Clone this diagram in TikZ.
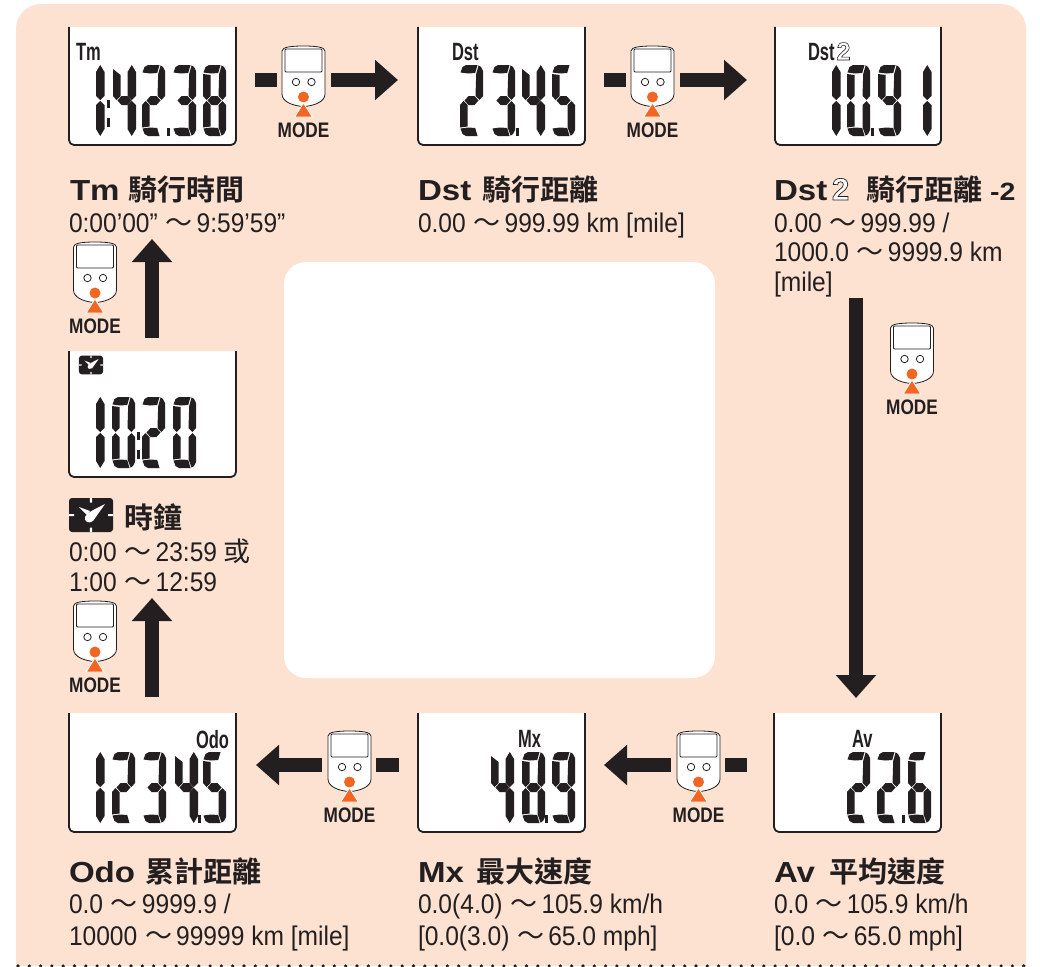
\documentclass[tikz,border=0pt]{standalone}
\usepackage{fontspec}
\usetikzlibrary{arrows.meta}
\setmainfont{Liberation Sans}[FakeStretch=0.91]
\newfontfamily\tbf{Liberation Sans Bold}[FakeStretch=1.14]
\newfontfamily\modef{Liberation Sans Bold}[FakeStretch=0.82]
\newfontfamily\lcdf{Liberation Sans Bold}[FakeStretch=0.66]
\newfontfamily\outf{Liberation Sans Bold}[FakeBold=2.2]
\newfontfamily\cjkb{Noto Sans CJK TC Bold}
\newfontfamily\cjkr{Noto Sans CJK TC}
\definecolor{ink}{HTML}{231F20}
\definecolor{peach}{HTML}{FDE2D2}
\definecolor{hot}{HTML}{F26522}
\newcommand\fs[1]{\fontsize{#1}{#1}\selectfont}
\newcommand\wv{\hspace{1pt}{\cjkr 〜}\hspace{4pt}}
\newcommand\outtwo{\special{pdf:bcolor [1 1 1] [0.137 0.122 0.125]}{\outf 2}\special{pdf:ecolor}}
\tikzset{
  every node/.style={inner sep=0pt,outer sep=0pt,text=ink},
  body/.style={anchor=base west,font=\fs{27}},
  ttlab/.style={anchor=base west,font=\fs{29}},
  lcdlab/.style={anchor=base west,font=\lcdf\fs{25}},
  modelab/.style={anchor=base,font=\modef\fs{21}},
  dispbox/.style={anchor=north west,fill=white},
  dispedge/.style={draw=ink,line width=1.8pt,rounded corners=5pt},
  devbox/.style={minimum width=43pt,minimum height=68pt},
  fat/.style={draw=ink,line width=14pt,-{Triangle[length=23pt,width=39pt]}},
  stub/.style={draw=ink,line width=14pt},
  lcd/.style={fill=ink},
}
% seven-segment parts
\newcommand\sgA{\fill[lcd] (0.5,7.5)--(2.5,2)--(6,0)--(17.5,0)--(15.2,8)--(8,8.5)--cycle;}
\newcommand\sgB{\fill[lcd] (18.6,0.3)--(21,2)--(23,6)--(23,31)--(19.5,35)--(15.5,31)--(16.2,9)--cycle;}
\newcommand\sgC{\fill[lcd] (15.5,40)--(19.5,36)--(23,40)--(23,65)--(21,69)--(18.6,70.7)--(15.5,62)--cycle;}
\newcommand\sgD{\fill[lcd] (0.5,63.5)--(8,62.5)--(15.2,63)--(17.5,71)--(6,71)--(2.5,69)--cycle;}
\newcommand\sgE{\fill[lcd] (0,40)--(3.5,36)--(7.5,40)--(7.5,61.5)--(0,62.5)--cycle;}
\newcommand\sgF{\fill[lcd] (0,9)--(7.5,10)--(7.5,31)--(3.5,35)--(0,31)--cycle;}
\newcommand\sgG{\fill[lcd] (4.5,35.5)--(8.5,31)--(14.5,31)--(18.5,35.5)--(14.5,40)--(8.5,40)--cycle;}
\newcommand\sgK{\fill[lcd] (0,4)--(7.5,10)--(7.5,31)--(3.5,35)--(0,31)--cycle;}
\newcommand\colP[1]{\fill[lcd] (#1,7)--(#1+4.25,0)--(#1+8.5,7)--(#1+8.5,31)--(#1+4.25,35)--(#1,31)--cycle;
  \fill[lcd] (#1,40)--(#1+4.25,36)--(#1+8.5,40)--(#1+8.5,64)--(#1+4.25,71)--(#1,64)--cycle;}
\newcommand\dzero{\sgA\sgB\sgC\sgD\sgE\sgF}
\newcommand\done{\colP{0}}
\newcommand\dtwo{\sgA\sgB\sgG\sgE\sgD}
\newcommand\dthree{\sgA\sgB\sgG\sgC\sgD}
\newcommand\dfour{\sgK\sgG\colP{14.5}}
\newcommand\dfive{\sgA\sgF\sgG\sgC\sgD}
\newcommand\dsix{\sgA\sgF\sgG\sgE\sgC\sgD}
\newcommand\deight{\sgA\sgB\sgC\sgD\sgE\sgF\sgG}
\newcommand\dnine{\sgA\sgB\sgC\sgD\sgF\sgG}
\newcommand\dg[3]{\begin{scope}[shift={(#1,#2)}]#3\end{scope}}
\newcommand\dotp[2]{\fill[lcd] (#1,#2+63)rectangle(#1+3,#2+71);}
\newcommand\colonp[2]{\fill[lcd] (#1,#2+35)rectangle(#1+3,#2+43);\fill[lcd] (#1,#2+53)rectangle(#1+3,#2+62);}
% display: name, x1, y1, x2, y2
\newcommand\display[5]{\node[dispbox,minimum width={(#4-#2)*1pt},minimum height={(#5-#3)*1pt}] (#1) at (#2,#3) {};
  \draw[dispedge] (#2,#3)--(#2,#5)--(#4,#5)--(#4,#3);}
% device: name, cx, cy
\newcommand\device[3]{\begin{scope}[shift={(#2,#3)}]
  \node[devbox] (#1) at (0,0) {};
  \draw[draw=ink,line width=0.8pt,fill=white] (-21.5,-29) .. controls (-21.5,-33) and (-12,-34) .. (0,-34) .. controls (12,-34) and (21.5,-33) .. (21.5,-29) -- (21.5,14) .. controls (21.5,22) and (10,26) .. (0,26.5) .. controls (-10,26) and (-21.5,22) .. (-21.5,14) -- cycle;
  \draw[draw=ink,line width=0.8pt,rounded corners=1pt] (-18.5,-31) rectangle (18.5,-8);
  \draw[draw=ink,line width=0.8pt] (-7.5,2) circle (3.7) (8,2) circle (3.7);
  \fill[hot] (0,17) circle (5.5);
  \draw[draw=white,fill=hot,line width=0.8pt] (0,23)--(8.8,37)--(-8.8,37)--cycle;
  \node[modelab] (#1label) at (0,57.5) {MODE};
\end{scope}}
% clock icon: cx, cy, scale
\newcommand\clockicon[3]{\begin{scope}[shift={(#1,#2)},scale=#3]
  \fill[ink,rounded corners=3pt] (-22,-17) rectangle (22,17);
  \fill[white] (-1.2,-17) rectangle (1.2,-12.5) (-1.2,12.5) rectangle (1.2,17) (-22,-1) rectangle (-17,1) (17,-1) rectangle (22,1);
  \fill[white] (14,-11)--(2,6) .. controls (-2,9) and (-7,7) .. (-6,2) .. controls (-4,-2) and (0,-4) .. cycle;
  \fill[white] (-12,-8)--(-1,-4)--(-4,0)--cycle;
\end{scope}}
% title: name, x, y, width of Latin part, Latin, CJK
\newcommand\ttl[6]{\node[ttlab] (#1) at (#2,#3) {\makebox[#4pt][l]{\tbf\fs{29}#5}{\cjkb\fs{29}#6}};}
\begin{document}
\begin{tikzpicture}[x=1pt,y=-1pt]
\useasboundingbox (0,0) rectangle (1040,966);
\fill[white] (0,0) rectangle (1040,966);
\fill[peach,rounded corners=25pt] (16,1000) -- (16,4) -- (1026,4) -- (1026,1000) -- cycle;
\fill[white] (0,966) rectangle (1040,1010);
\node[fill=white,rounded corners=22pt,minimum width=431pt,minimum height=416pt,anchor=north west] (hole) at (284,262) {};
\draw[ink,line width=3.6pt,line cap=round,dash pattern=on 0pt off 11.3pt] (18,966) -- (1026,966);

% displays
\display{tmbox}{69}{27}{236}{145}
\display{dstbox}{418}{27}{585}{145}
\display{dsttwobox}{775}{27}{941}{145}
\display{clockbox}{69}{351}{236}{477}
\display{odobox}{69}{713}{236}{832}
\display{mxbox}{418}{713}{585}{832}
\display{avbox}{774}{713}{941}{832}

% digits
\dg{96}{65}{\done}\colonp{107}{65}\dg{113}{65}{\dfour}\dg{142}{65}{\dtwo}\dotp{167}{65}\dg{173}{65}{\dthree}\dg{203}{65}{\deight}
\dg{460}{65}{\dtwo}\dg{492}{65}{\dthree}\dotp{516}{65}\dg{522}{65}{\dfour}\dg{552}{65}{\dfive}
\dg{832}{65}{\done}\dg{847}{65}{\dzero}\dotp{871}{65}\dg{878}{65}{\dnine}\dg{923}{65}{\done}
\dg{96}{397}{\done}\dg{112}{397}{\dzero}\colonp{137}{397}\dg{142}{397}{\dtwo}\dg{173}{397}{\dzero}
\dg{96}{752}{\done}\dg{112}{752}{\dtwo}\dg{143}{752}{\dthree}\dg{175}{752}{\dfour}\dotp{197.5}{752}\dg{203}{752}{\dfive}
\dg{491}{752}{\dfour}\dg{522}{752}{\deight}\dotp{545}{752}\dg{552}{752}{\dnine}
\dg{847}{752}{\dtwo}\dg{877}{752}{\dtwo}\dotp{902}{752}\dg{908}{752}{\dsix}

% display labels
\node[lcdlab] (lcdtm) at (76,60) {Tm};
\node[lcdlab] (lcddst) at (452,60) {Dst};
\node[lcdlab] (lcddsttwo) at (808,60) {Dst\hspace{2pt}\outtwo};
\node[lcdlab] (lcdodo) at (196,748) {Odo};
\node[lcdlab] (lcdmx) at (518,747) {Mx};
\node[lcdlab] (lcdav) at (852,747) {Av};
\clockicon{91}{365}{0.55}

% mode devices
\device{devA}{303.5}{80}
\device{devB}{652.5}{80}
\device{devC}{912}{357}
\device{devD}{698.5}{765}
\device{devE}{349.5}{765}
\device{devF}{95}{635}
\device{devG}{95}{276}

% connectors
\draw[stub,shorten <=19pt,shorten >=5pt] (tmbox.east |- devA.west) -- (devA.west);
\draw[fat,shorten <=6pt,shorten >=20pt] (devA.east) -- (dstbox.west |- devA.east);
\draw[stub,shorten <=19pt,shorten >=5pt] (dstbox.east |- devB.west) -- (devB.west);
\draw[fat,shorten <=6pt,shorten >=28pt] (devB.east) -- (dsttwobox.west |- devB.east);
\coordinate (downstart) at (856,298);
\draw[fat,shorten >=15pt] (downstart) -- (downstart |- avbox.north);
\draw[stub,shorten <=27pt,shorten >=5pt] (avbox.west |- devD.east) -- (devD.east);
\draw[fat,shorten <=6pt,shorten >=19pt] (devD.west) -- (mxbox.east |- devD.west);
\draw[stub,shorten <=19pt,shorten >=5pt] (mxbox.west |- devE.east) -- (devE.east);
\draw[fat,shorten <=6pt,shorten >=20pt] (devE.west) -- (odobox.east |- devE.west);
\coordinate (uptoclock) at (152,598);
\coordinate (uptotm) at (152,239);
\draw[fat,shorten <=16pt] (uptoclock |- odobox.north) -- (uptoclock);
\draw[fat,shorten <=13pt] (uptotm |- clockbox.north) -- (uptotm);

% titles
\ttl{ttm}{70}{200}{58}{Tm}{騎行時間}
\ttl{tdst}{418}{200}{64}{Dst}{騎行距離}
\node[ttlab] (tdsttwo) at (774,200) {\makebox[58pt][l]{\tbf\fs{29}Dst}\makebox[34pt][l]{\fs{31}\outtwo}{\cjkb\fs{29}騎行距離}\hspace{8pt}{\tbf\fs{25}-2}};
\ttl{todo}{69}{882}{76}{Odo}{累計距離}
\ttl{tmx}{418}{882}{58}{Mx}{最大速度}
\ttl{tav}{774}{882}{55}{Av}{平均速度}
\clockicon{91}{515}{1}
\node[ttlab] (tclock) at (124,528) {\cjkb\fs{29}時鐘};

% values
\node[body] (v1) at (69,232) {0:00’00” \wv 9:59’59”};
\node[body] (v2) at (418,232) {0.00 \wv 999.99 km [mile]};
\node[body] (v3a) at (774,232) {0.00 \wv 999.99 /};
\node[body] (v3b) at (774,261) {1000.0 \wv 9999.9 km};
\node[body] (v3c) at (774,291) {[mile]};
\node[body] (v4a) at (69,561) {0:00 \wv 23:59 {\cjkr 或}};
\node[body] (v4b) at (69,591) {1:00 \wv 12:59};
\node[body] (v5a) at (69,913) {0.0 \wv 9999.9 /};
\node[body] (v5b) at (69,945) {10000 \wv 99999 km [mile]};
\node[body] (v6a) at (418,913) {0.0(4.0) \wv 105.9 km/h};
\node[body] (v6b) at (418,945) {[0.0(3.0) \wv 65.0 mph]};
\node[body] (v7a) at (774,913) {0.0 \wv 105.9 km/h};
\node[body] (v7b) at (774,945) {[0.0 \wv 65.0 mph]};
\end{tikzpicture}
\end{document}
